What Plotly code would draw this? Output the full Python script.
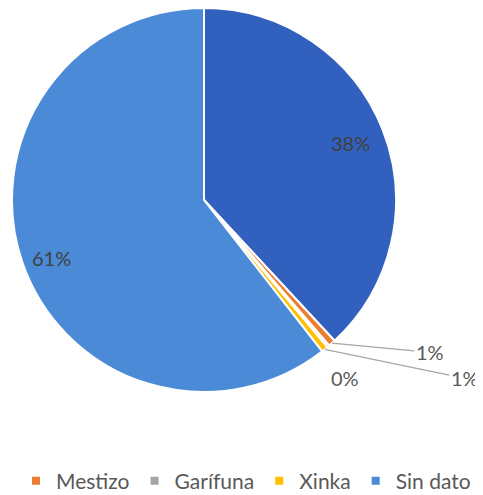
import math
import plotly.graph_objects as go

# 人口按民族（百分比）
labels = ["Maya", "Mestizo", "Garífuna", "Xinka", "Sin dato"]
values = [38.1, 0.6, 0.2, 0.55, 60.55]
colors = ["#3160BF", "#ED7D31", "#A5A5A5", "#FFC000", "#4A8AD6"]

FONT = "Lato"
W, H = 475, 487            # 頁面 body 有 8px 邊距
CX, CY, R = 196, 192, 192  # 圓心與半徑（像素）

fig = go.Figure()

fig.add_trace(go.Pie(
    labels=labels, values=values, sort=False,
    direction="clockwise", rotation=0,
    marker=dict(colors=colors, line=dict(color="white", width=2)),
    textinfo="none", showlegend=False, hoverinfo="label+percent",
    domain=dict(x=[(CX - R) / W, (CX + R) / W],
                y=[(H - CY - R) / H, (H - CY + R) / H]),
))

# 圖例用的空白點（Maya 放在左側被裁掉的第二個圖例）
for lab, col in zip(labels, colors):
    fig.add_trace(go.Scatter(
        x=[None], y=[None], mode="markers", name=lab,
        marker=dict(symbol="square", size=8, color=col),
        legend="legend2" if lab == "Maya" else "legend",
    ))

# 百分比標籤：依扇形中角計算位置
total = sum(values)
# (半徑比例, 文字偏移 ax, ay, 是否畫引線)
label_style = [
    (0.82, 0, 0, False),
    (1.0, 98, 9, True),
    (1.0, 17, 32, False),
    (1.0, 140, 29, True),
    (0.84, 0, 6, False),
]
cum = 0
for v, (rr, ax, ay, line) in zip(values, label_style):
    theta = 2 * math.pi * (cum + v / 2) / total
    cum += v
    px = CX + rr * R * math.sin(theta)
    py = CY - rr * R * math.cos(theta)
    pct = f"{round(100 * v / total)}%"
    inside = rr < 1
    ann = dict(
        xref="paper", yref="paper", text=pct,
        font=dict(family=FONT, size=20, color="#404040" if inside else "#595959"),
    )
    if line:
        ann.update(x=px / W, y=1 - py / H, showarrow=True, ax=ax, ay=ay,
                   arrowhead=0, arrowwidth=1.3, arrowcolor="#A6A6A6")
    else:
        ann.update(x=(px + ax) / W, y=1 - (py + ay) / H, showarrow=False,
                   xanchor="center", yanchor="middle")
    fig.add_annotation(**ann)

legend_common = dict(orientation="h", yanchor="middle", y=14 / H,
                     xanchor="left", font=dict(family=FONT, size=21, color="#595959"),
                     bgcolor="rgba(0,0,0,0)")

fig.update_layout(
    width=W, height=H,
    margin=dict(l=0, r=0, t=0, b=0, autoexpand=False),
    paper_bgcolor="white", plot_bgcolor="white",
    xaxis=dict(visible=False), yaxis=dict(visible=False),
    legend=dict(x=8 / W, **legend_common),
    legend2=dict(x=-90 / W, **legend_common),
    font=dict(family=FONT, color="#595959"),
)

fig.write_html("out.html")
